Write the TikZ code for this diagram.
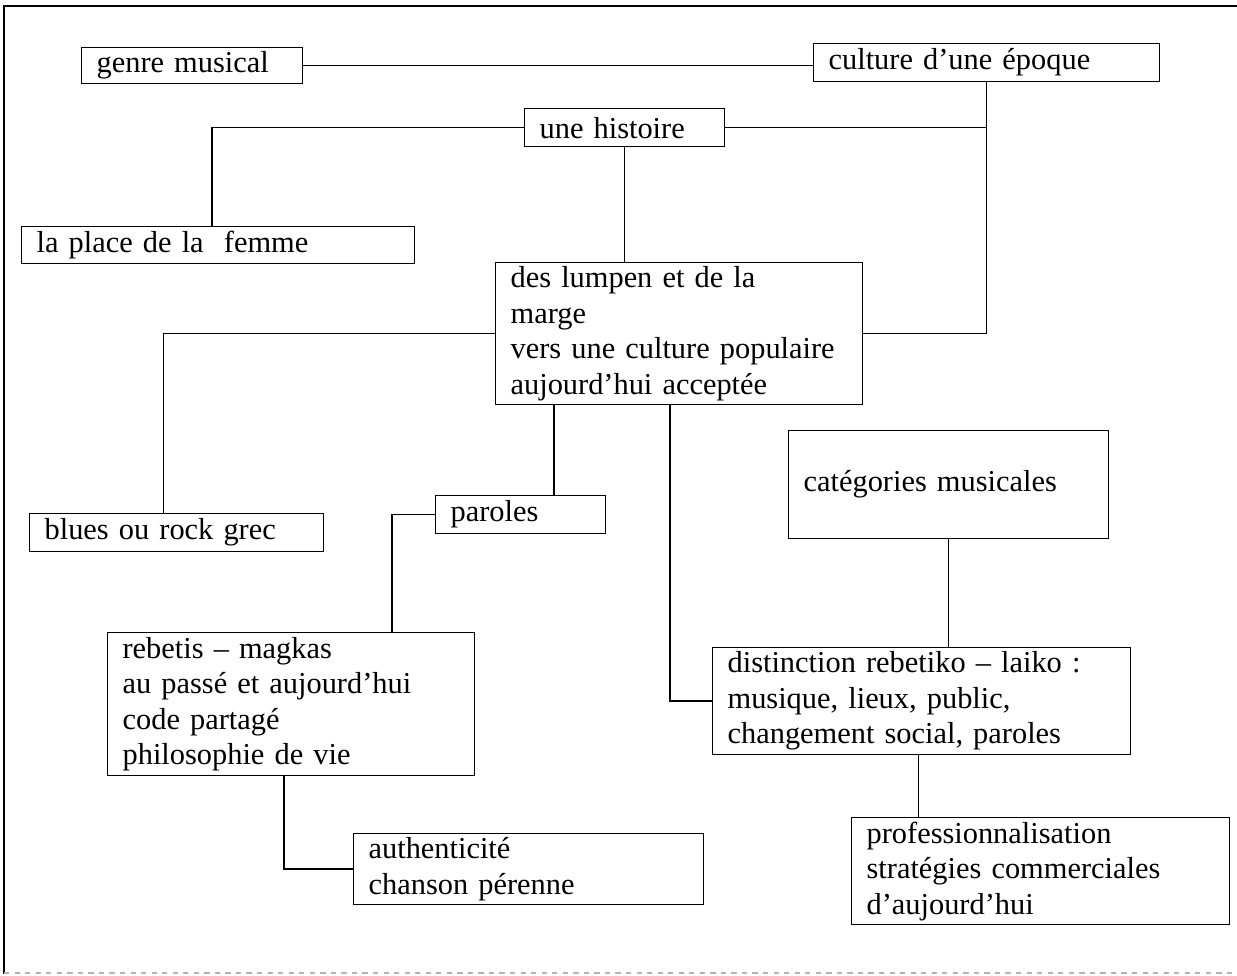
\documentclass[tikz,border=0pt]{standalone}
\usepackage{fontspec}
\setmainfont{Liberation Serif}
\usetikzlibrary{positioning}

\begin{document}
\begin{tikzpicture}[
  x=0.02cm, y=-0.02cm,
  line width=0.7pt,
  boite/.style={draw,anchor=north west,align=left,inner xsep=0.3cm,inner ysep=0pt},
  font=\fontsize{17.3}{20.2}\selectfont
]
\useasboundingbox (0,0) rectangle (1237,976);
% cadre de la page
\draw (4,974) -- (4,6) -- (1237,6);
\draw[gray!60,dashed] (4,973) -- (1237,973);

\node[boite,text width=3.82cm,minimum height=0.72cm] (genre) at (81,47) {genre musical};
\node[boite,text width=6.32cm,minimum height=0.76cm] (culture) at (813,43) {culture d'une époque};
\node[boite,text width=3.40cm,minimum height=0.76cm] (histoire) at (524,108) {une histoire};
\node[boite,text width=7.26cm,minimum height=0.74cm] (place) at (21,226) {la place de la\ \ femme};
\node[boite,text width=6.74cm,minimum height=2.84cm] (lumpen) at (495,262)
  {des lumpen et de la\\marge\\vers une culture populaire\\aujourd'hui acceptée};
\node[boite,text width=5.28cm,minimum height=0.76cm] (blues) at (29,513) {blues ou rock grec};
\node[boite,text width=2.80cm,minimum height=0.76cm] (paroles) at (435,495) {paroles};
\node[boite,text width=5.80cm,minimum height=2.16cm] (categ) at (788,430) {catégories musicales};
\node[boite,text width=6.74cm,minimum height=2.86cm] (rebetis) at (107,632)
  {rebetis -- magkas\\au passé et aujourd'hui\\code partagé\\philosophie de vie};
\node[boite,text width=7.76cm,minimum height=2.14cm] (distinction) at (712,647)
  {distinction rebetiko -- laiko :\\musique, lieux, public,\\changement social, paroles};
\node[boite,text width=6.40cm,minimum height=1.42cm] (authent) at (353,833)
  {authenticité\\chanson pérenne};
\node[boite,text width=6.96cm,minimum height=2.14cm] (profession) at (851,817)
  {professionnalisation\\stratégies commerciales\\d'aujourd'hui};

% points de depart des liens
\coordinate (lumpenP) at ([shift={(-125,0)}]lumpen.south);
\coordinate (lumpenD) at ([shift={(-9,0)}]lumpen.south);
\coordinate (distP) at ([shift={(-3,0)}]distinction.south);

% liens
\draw (genre.east) -- (genre.east -| culture.west);
\draw (culture.south) |- (lumpen.east);
\draw (histoire.east) -- (histoire.east -| culture.south);
\draw (histoire.west) -| ([shift={(-6,0)}]place.north);
\draw (histoire.south) -- (histoire.south |- lumpen.north);
\draw (lumpen.west) -| ([shift={(-13,0)}]blues.north);
\draw (lumpenP) -- (lumpenP |- paroles.north);
\draw (paroles.west) -| ([shift={(101,0)}]rebetis.north);
\draw ([shift={(-7,0)}]rebetis.south) |- (authent.west);
\draw (lumpenD) |- (distinction.west);
\draw (categ.south) -- (categ.south |- distinction.north);
\draw (distP) -- (distP |- profession.north);
\end{tikzpicture}
\end{document}
